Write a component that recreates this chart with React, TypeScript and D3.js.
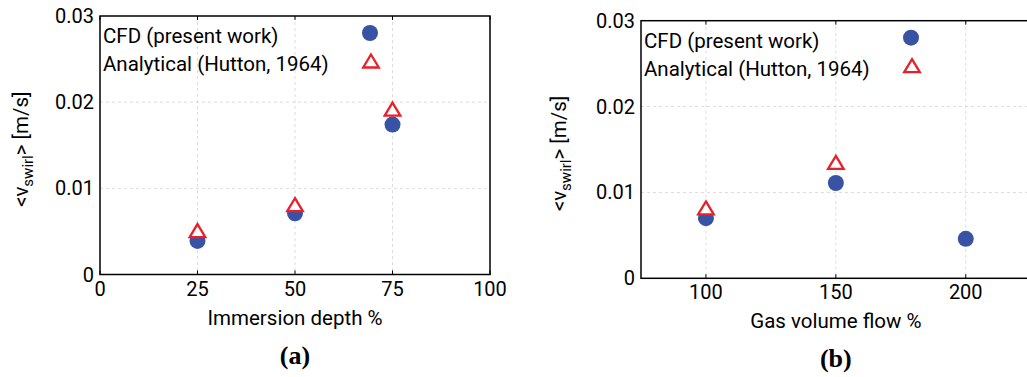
import React, { useEffect, useRef } from 'react';
import * as d3 from 'd3';

// swirl velocity vs immersion depth (a) and gas volume flow (b)
const depthX = [25, 50, 75];
const depthCfd = [0.0039, 0.0071, 0.0174];
const depthHutton = [0.0051, 0.0081, 0.0192];

const flowX = [100, 150, 200];
const flowCfd = [0.007, 0.0111, 0.0046];
const flowHutton = [0.0082, 0.0135];

const yTicks = [0, 0.01, 0.02, 0.03];
const yTickLabels = ['0', '0.01', '0.02', '0.03'];
const depthTicks = [0, 25, 50, 75, 100];
const flowTicks = [100, 150, 200];

const legendNames = ['CFD (present work)', 'Analytical (Hutton, 1964)'];

const BLUE = '#3953a4';
const RED = '#e8202a';
const FONT = 'Roboto, sans-serif';

const tri = 'M0,-6.5L7.8,6.5L-7.8,6.5Z';

function drawPanel(svg, opts) {
  const { left, right, top, bottom, xDomain, xTicks, xs, cfd, hutton, xTitle, tag, ylabX } = opts;
  const g = svg.append('g');

  const x = d3.scaleLinear().domain(xDomain).range([left, right]);
  const y = d3.scaleLinear().domain([0, 0.03]).range([bottom, top]);

  // grid
  g.selectAll('.vgrid').data(xTicks.filter(t => t > xDomain[0] && t < xDomain[1]))
    .join('line').attr('class', 'vgrid')
    .attr('x1', d => x(d)).attr('x2', d => x(d))
    .attr('y1', top).attr('y2', bottom)
    .attr('stroke', '#dcdcdc').attr('stroke-width', 1).attr('stroke-dasharray', '3,3');
  g.selectAll('.hgrid').data(yTicks.slice(1, -1))
    .join('line').attr('class', 'hgrid')
    .attr('x1', left).attr('x2', right)
    .attr('y1', d => y(d)).attr('y2', d => y(d))
    .attr('stroke', '#dcdcdc').attr('stroke-width', 1).attr('stroke-dasharray', '3,3');

  // inward ticks
  g.selectAll('.xt').data(xTicks)
    .join('line').attr('class', 'xt')
    .attr('x1', d => x(d)).attr('x2', d => x(d))
    .attr('y1', top).attr('y2', top + 4)
    .attr('stroke', '#000');
  g.selectAll('.xb').data(xTicks)
    .join('line').attr('class', 'xb')
    .attr('x1', d => x(d)).attr('x2', d => x(d))
    .attr('y1', bottom).attr('y2', bottom - 4)
    .attr('stroke', '#000');

  // frame
  g.append('rect')
    .attr('x', left).attr('y', top)
    .attr('width', right - left).attr('height', bottom - top)
    .attr('fill', 'none').attr('stroke', '#000').attr('stroke-width', 1.5);

  // tick labels
  g.selectAll('.yl').data(yTicks)
    .join('text').attr('class', 'yl')
    .attr('x', left - 6).attr('y', d => y(d) + 7)
    .attr('text-anchor', 'end')
    .style('font-family', FONT).style('font-size', '20px')
    .text((d, i) => yTickLabels[i]);
  g.selectAll('.xl').data(xTicks)
    .join('text').attr('class', 'xl')
    .attr('x', d => x(d)).attr('y', bottom + 21)
    .attr('text-anchor', 'middle')
    .style('font-family', FONT).style('font-size', '20px')
    .text(d => d);

  // axis titles
  g.append('text')
    .attr('x', (left + right) / 2).attr('y', bottom + 50)
    .attr('text-anchor', 'middle')
    .style('font-family', FONT).style('font-size', '20.5px')
    .text(xTitle);

  const yl = g.append('text')
    .attr('transform', `translate(${ylabX}, ${(top + bottom) / 2 + 4}) rotate(-90)`)
    .attr('text-anchor', 'middle')
    .style('font-family', FONT).style('font-size', '20.5px');
  yl.append('tspan').text('<v');
  yl.append('tspan').attr('dy', 5).style('font-size', '15px').text('swirl');
  yl.append('tspan').attr('dy', -5).text('> [m/s]');

  g.append('text')
    .attr('x', (left + right) / 2).attr('y', bottom + 89)
    .attr('text-anchor', 'middle')
    .style('font-family', '"Liberation Serif", "Times New Roman", serif')
    .style('font-size', '26px').style('font-weight', 'bold')
    .text(tag);

  // points
  g.selectAll('.cfd').data(xs.map((v, i) => [v, cfd[i]]))
    .join('circle').attr('class', 'cfd')
    .attr('cx', d => x(d[0])).attr('cy', d => y(d[1]))
    .attr('r', 8).attr('fill', BLUE);
  g.selectAll('.hut').data(hutton.map((v, i) => [xs[i], v]))
    .join('path').attr('class', 'hut')
    .attr('d', tri)
    .attr('transform', d => `translate(${x(d[0])}, ${y(d[1])})`)
    .attr('fill', '#fff').attr('stroke', RED).attr('stroke-width', 2.3);

  // legend
  const lx = left + 3;
  g.selectAll('.lg').data(legendNames)
    .join('text').attr('class', 'lg')
    .attr('x', lx).attr('y', (d, i) => top + 27 + i * 28)
    .style('font-family', FONT).style('font-size', '20.5px')
    .text(d => d);
  g.append('circle')
    .attr('cx', left + 270).attr('cy', top + 17)
    .attr('r', 8).attr('fill', BLUE);
  g.append('path')
    .attr('d', tri)
    .attr('transform', `translate(${left + 271}, ${top + 45})`)
    .attr('fill', '#fff').attr('stroke', RED).attr('stroke-width', 2.3);
}

export default function App() {
  const ref = useRef(null);

  useEffect(() => {
    const svg = d3.select(ref.current);
    svg.selectAll('*').remove();

    drawPanel(svg, {
      left: 100, right: 490, top: 16, bottom: 274.5,
      xDomain: [0, 100], xTicks: depthTicks,
      xs: depthX, cfd: depthCfd, hutton: depthHutton,
      xTitle: 'Immersion depth %', tag: '(a)', ylabX: 28,
    });
    drawPanel(svg, {
      left: 641, right: 1030.7, top: 20.7, bottom: 278.3,
      xDomain: [75, 225], xTicks: flowTicks,
      xs: flowX, cfd: flowCfd, hutton: flowHutton,
      xTitle: 'Gas volume flow %', tag: '(b)', ylabX: 566,
    });
  }, []);

  return (
    <div style={{ position: 'absolute', left: 0, top: 0 }}>
      <svg ref={ref} width={1027} height={377} style={{ display: 'block', background: '#fff' }} />
    </div>
  );
}
